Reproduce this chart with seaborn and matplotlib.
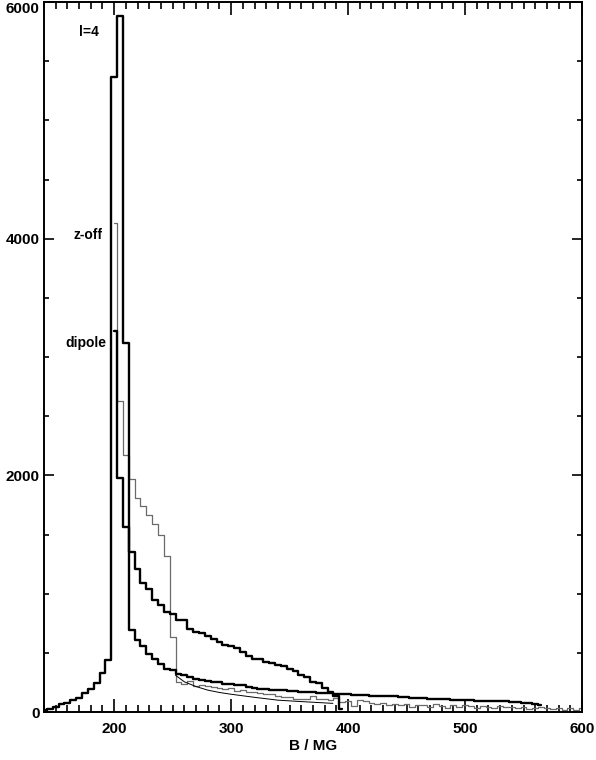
import numpy as np
import pandas as pd
import matplotlib
matplotlib.use("Agg")
import matplotlib.pyplot as plt
from matplotlib.ticker import MultipleLocator
import seaborn as sns

# histogram values, bins every 5 MG (values at bin centres)
L4_B = list(range(140, 570, 5))
L4_N = [17, 25, 40, 68, 76, 104, 116, 158, 194, 245, 330, 440,
        5367, 5883, 3120, 695, 611, 555, 493, 451, 408, 366, 358, 321,
        313, 293, 279, 273, 265, 256, 251, 237, 237, 228, 228, 209, 200,
        197, 192, 190, 185, 182, 178, 176, 171, 168, 166, 162, 160, 157,
        154, 150, 148, 145, 142, 140, 138, 137, 135, 134, 131, 127, 125,
        122, 118, 116, 113, 111, 109, 107, 104, 102, 100, 99, 97, 95, 94,
        93, 92, 90, 87, 84, 80, 75, 70, 63]

DIP_B = list(range(200, 400, 5))
DIP_N = [3220, 1978, 1564, 1352, 1205, 1093, 1036, 949, 901, 845, 831,
         780, 774, 702, 674, 668, 645, 617, 589, 565, 556, 538, 505, 476,
         452, 445, 422, 416, 395, 391, 360, 350, 315, 293, 256, 245, 200,
         166, 138, 25]

ZOFF_B = list(range(200, 605, 5))
ZOFF_N = [4133, 2625, 2175, 1966, 1809, 1738, 1662, 1586, 1493, 1315, 634,
          251, 237, 265, 222, 228, 217, 209, 200, 194, 200, 180, 187, 172,
          166, 160, 150, 148, 135, 124, 124, 110, 112, 108, 133, 110, 106,
          104, 120, 87, 92, 53, 100, 95, 74, 65, 78, 60, 68, 55, 66, 40, 62,
          58, 45, 64, 50, 38, 55, 42, 56, 48, 35, 52, 44, 30, 48, 40, 46, 34,
          42, 28, 36, 40, 30, 22, 35, 20, 32, 18, 30]

# thin smooth curve under the z-off tail
SMOOTH_B = [252.5, 260, 270, 280, 290, 300, 320, 340, 360, 387]
SMOOTH_N = [310, 255, 215, 185, 165, 150, 124, 100, 88, 73]

LABELS = ["l=4", "z-off", "dipole"]
LABEL_POS = [(187.0, 5747), (190.4, 4031), (193.0, 3118)]

sns.set_style("ticks")
plt.rcParams["font.family"] = ["Liberation Sans", "DejaVu Sans"]
plt.rcParams["font.size"] = 11
plt.rcParams["font.weight"] = "bold"
for key in ["text.color", "axes.labelcolor", "xtick.color", "ytick.color",
            "axes.edgecolor"]:
    plt.rcParams[key] = "black"

fig = plt.figure(figsize=(5.96, 7.6), dpi=100)
ax = fig.add_axes([44 / 596, 1 - 712 / 760, 538 / 596, 710 / 760])

sns.lineplot(x=ZOFF_B, y=ZOFF_N, drawstyle="steps-mid", color="#6a6a6a",
             lw=0.9, estimator=None, ax=ax)
sns.lineplot(x=SMOOTH_B, y=SMOOTH_N, color="black", lw=0.7,
             estimator=None, ax=ax)
sns.lineplot(x=DIP_B, y=DIP_N, drawstyle="steps-mid", color="black",
             lw=1.7, estimator=None, ax=ax)
sns.lineplot(x=L4_B, y=L4_N, drawstyle="steps-mid", color="black",
             lw=1.7, estimator=None, ax=ax)

for txt, (bx, by) in zip(LABELS, LABEL_POS):
    ax.text(bx, by, txt, ha="right", va="center", fontsize=10,
            fontweight="bold", color="black")

ax.set_xlim(140, 600)
ax.set_ylim(0, 6000)
ax.xaxis.set_major_locator(MultipleLocator(100))
ax.xaxis.set_minor_locator(MultipleLocator(10))
ax.yaxis.set_major_locator(MultipleLocator(2000))
ax.yaxis.set_minor_locator(MultipleLocator(500))
ax.tick_params(which="both", direction="in", top=True, right=True,
               width=1.2, colors="black", labelcolor="black")
ax.tick_params(axis="x", which="major", length=9.5, pad=7)
ax.tick_params(axis="x", which="minor", length=5)
ax.tick_params(axis="y", which="major", length=7, pad=3)
ax.tick_params(axis="y", which="minor", length=3.6)
for sp in ax.spines.values():
    sp.set_visible(True)
    sp.set_linewidth(1.4)
    sp.set_color("black")

ax.set_xlabel("B / MG", labelpad=2, fontweight="bold", color="black")
ax.set_ylabel("")

# keep the top tick label inside the figure
fig.canvas.draw()
for tick in ax.yaxis.get_major_ticks():
    if abs(tick.get_loc() - 6000) < 1:
        tick.label1.set_verticalalignment("top")

fig.savefig("out.png", dpi=100)
